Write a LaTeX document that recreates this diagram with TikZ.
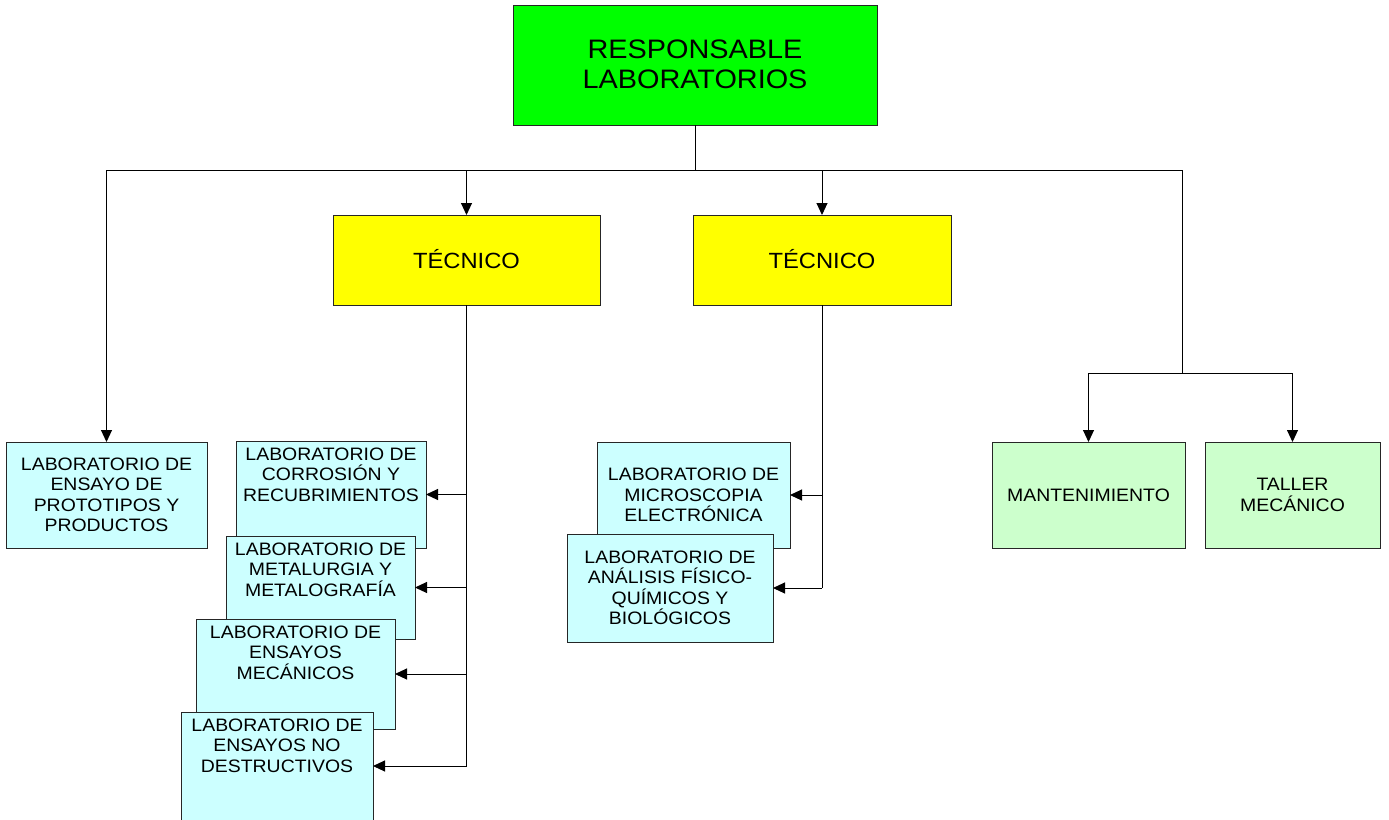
\documentclass[tikz,border=0pt]{standalone}
\usepackage{fontspec}
\setmainfont{Liberation Sans}[FakeStretch=1.08]
\usetikzlibrary{arrows.meta}
\definecolor{headgreen}{HTML}{00FF00}
\definecolor{techyellow}{HTML}{FFFF00}
\definecolor{labcyan}{HTML}{CCFFFF}
\definecolor{paleGreen}{HTML}{CCFFCC}
\tikzset{
  unitbox/.style={draw=black!85, line width=0.9pt, inner sep=0pt, outer sep=0pt,
    anchor=north west, align=center, text=black},
  labfont/.style={font=\fontsize{18}{20.5}\selectfont},
  toptext/.style={anchor=north, inner sep=0pt, align=center, yshift=-6.5pt, labfont},
  link/.style={draw=black, line width=1pt},
  arrowlink/.style={link, -{Triangle[length=12pt,width=11pt]}},
}
\begin{document}
\begin{tikzpicture}[x=1pt,y=-1pt]
\useasboundingbox (0,0) rectangle (1389,819);

% head of the laboratories
\node[unitbox, fill=headgreen, minimum width=364pt, minimum height=120pt,
  font=\fontsize{26.7}{30}\selectfont] (head) at (513,5) {\raisebox{2pt}{RESPONSABLE}\\\raisebox{2pt}{LABORATORIOS}};

% technicians
\node[unitbox, fill=techyellow, minimum width=267pt, minimum height=90pt,
  font=\fontsize{22}{26}\selectfont] (tecA) at (333,215) {\raisebox{3pt}{TÉCNICO}};
\node[unitbox, fill=techyellow, minimum width=258pt, minimum height=90pt,
  font=\fontsize{22}{26}\selectfont] (tecB) at (693,215) {\raisebox{3pt}{TÉCNICO}};

% prototypes laboratory
\node[unitbox, fill=labcyan, minimum width=201pt, minimum height=106pt, labfont]
  (proto) at (6,442) {LABORATORIO DE\\ENSAYO DE\\PROTOTIPOS Y\\PRODUCTOS};

% laboratories under the first technician (stacked, later ones on top)
\node[unitbox, fill=labcyan, minimum width=190pt, minimum height=107pt] (corr) at (236,441) {};
\node[toptext] (corrT) at (corr.north) {LABORATORIO DE\\CORROSIÓN Y\\RECUBRIMIENTOS};
\node[unitbox, fill=labcyan, minimum width=189pt, minimum height=103pt] (metal) at (226,536) {};
\node[toptext] (metalT) at (metal.north) {LABORATORIO DE\\METALURGIA Y\\METALOGRAFÍA};
\node[unitbox, fill=labcyan, minimum width=199pt, minimum height=110pt] (mec) at (196,619) {};
\node[toptext] (mecT) at (mec.north) {LABORATORIO DE\\ENSAYOS\\MECÁNICOS};
\node[unitbox, fill=labcyan, minimum width=192pt, minimum height=108pt] (ndt) at (181,712) {};
\node[toptext] (ndtT) at (ndt.north) {LABORATORIO DE\\ENSAYOS NO\\DESTRUCTIVOS};

% laboratories under the second technician
\node[unitbox, fill=labcyan, minimum width=193pt, minimum height=106pt, labfont]
  (micro) at (597,442) {LABORATORIO DE\\MICROSCOPIA\\ELECTRÓNICA};
\node[unitbox, fill=labcyan, minimum width=206pt, minimum height=108pt, labfont]
  (anal) at (567,534) {LABORATORIO DE\\ANÁLISIS FÍSICO-\\QUÍMICOS Y\\BIOLÓGICOS};

% support units
\node[unitbox, fill=paleGreen, minimum width=193pt, minimum height=106pt, labfont]
  (mant) at (992,442) {MANTENIMIENTO};
\node[unitbox, fill=paleGreen, minimum width=175pt, minimum height=106pt, labfont]
  (taller) at (1205,442) {TALLER\\MECÁNICO};

% connectors from the head
\coordinate (hub) at (head.south |- 0,170);
\coordinate (sup) at (1182,373);
\draw[link] (head.south) -- (hub);
\draw[arrowlink] (hub) -| (proto.north);
\draw[arrowlink] (hub) -| (tecA.north);
\draw[arrowlink] (hub) -| (tecB.north);
\draw[link] (hub) -| (sup);
\draw[arrowlink] (sup) -| (mant.north);
\draw[arrowlink] (sup) -| (taller.north);

% first technician bus
\draw[link] (tecA.south) -- (tecA.south |- ndt.east);
\draw[arrowlink] (tecA.south |- corr.east) -- (corr.east);
\draw[arrowlink] (tecA.south |- metal.east) -- (metal.east);
\draw[arrowlink] (tecA.south |- mec.east) -- (mec.east);
\draw[arrowlink] (tecA.south |- ndt.east) -- (ndt.east);

% second technician bus
\draw[link] (tecB.south) -- (tecB.south |- anal.east);
\draw[arrowlink] (tecB.south |- micro.east) -- (micro.east);
\draw[arrowlink] (tecB.south |- anal.east) -- (anal.east);
\end{tikzpicture}
\end{document}
